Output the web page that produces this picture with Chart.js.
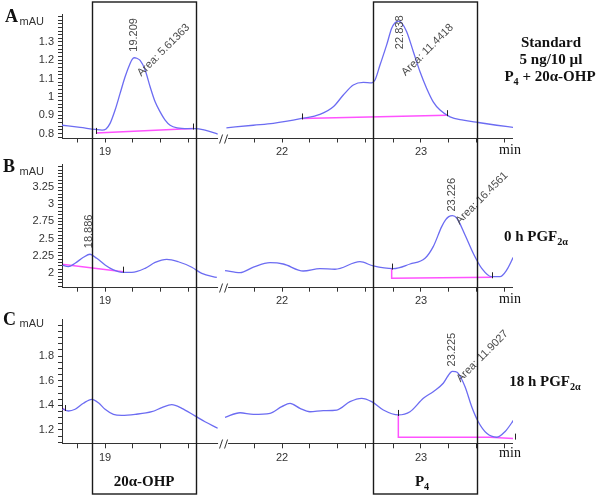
<!DOCTYPE html>
<html>
<head>
<meta charset="utf-8">
<script src="https://cdn.jsdelivr.net/npm/chart.js@4/dist/chart.umd.min.js"></script>
<style>
  html, body { margin: 0; padding: 0; background: #fff; }
  #wrap { position: relative; width: 600px; height: 496px; overflow: hidden; }
  #wrap canvas { position: absolute; left: 0; }
  #overlay { top: 0; pointer-events: none; }
</style>
</head>
<body>
<div id="wrap">
  <canvas id="chartA" width="600" height="160" style="top:0px"></canvas>
  <canvas id="chartB" width="600" height="160" style="top:150px"></canvas>
  <canvas id="chartC" width="600" height="170" style="top:305px"></canvas>
  <canvas id="overlay" width="600" height="496"></canvas>
</div>
<script>
// retention time (min) and signal (mAU)
const timesA = [18.69, 18.82, 18.93, 18.978, 19.007, 19.036, 19.072, 19.108, 19.144, 19.18, 19.195, 19.209, 19.228, 19.252, 19.288, 19.324, 19.36, 19.396, 19.432, 19.468, 19.518, 19.597, 19.647, 19.719, 19.81,
  20.7,
  21.6, 21.794, 21.937, 22.142, 22.273, 22.369, 22.441, 22.513, 22.585, 22.645, 22.669, 22.705, 22.753, 22.789, 22.812, 22.838, 22.862, 22.897, 22.945, 22.993, 23.041, 23.088, 23.137, 23.209, 23.304, 23.412, 23.545, 23.664];
const valuesA = [0.845, 0.833, 0.822, 0.818, 0.825, 0.855, 0.928, 1.019, 1.11, 1.183, 1.205, 1.214, 1.211, 1.199, 1.147, 1.055, 0.973, 0.918, 0.873, 0.845, 0.831, 0.827, 0.827, 0.818, 0.797,
  null,
  0.831, 0.845, 0.855, 0.882, 0.904, 0.946, 1.01, 1.065, 1.079, 1.077, 1.092, 1.174, 1.284, 1.375, 1.404, 1.414, 1.403, 1.356, 1.247, 1.137, 1.046, 0.973, 0.928, 0.891, 0.873, 0.86, 0.845, 0.833];

const timesB = [18.688, 18.736, 18.784, 18.844, 18.892, 18.94, 19.0, 19.06, 19.12, 19.192, 19.288, 19.36, 19.444, 19.527, 19.624, 19.696, 19.804,
  20.7,
  21.59, 21.698, 21.794, 21.914, 22.009, 22.153, 22.273, 22.381, 22.561, 22.657, 22.801, 22.921, 23.029, 23.088, 23.149, 23.178, 23.2, 23.226, 23.257, 23.317, 23.376, 23.437, 23.509, 23.568, 23.617, 23.664];
const valuesB = [2.113, 2.088, 2.138, 2.225, 2.27, 2.21, 2.113, 2.04, 2.005, 2.005, 2.064, 2.15, 2.195, 2.16, 2.08, 1.99, 1.93,
  null,
  2.03, 2.0, 2.08, 2.146, 2.127, 2.025, 2.059, 2.05, 2.161, 2.098, 2.059, 2.127, 2.211, 2.381, 2.674, 2.775, 2.82, 2.835, 2.8, 2.552, 2.284, 2.064, 1.941, 1.941, 2.04, 2.225];

const timesC = [18.688, 18.736, 18.784, 18.844, 18.904, 18.952, 19.0, 19.06, 19.12, 19.216, 19.336, 19.408, 19.48, 19.552, 19.647, 19.719, 19.81,
  20.7,
  21.59, 21.698, 21.794, 21.914, 21.998, 22.058, 22.129, 22.201, 22.297, 22.394, 22.489, 22.573, 22.645, 22.729, 22.837, 22.921, 23.017, 23.088, 23.16, 23.195, 23.225, 23.248, 23.268, 23.317, 23.365, 23.412, 23.473, 23.545, 23.604, 23.676];
const valuesC = [1.376, 1.354, 1.368, 1.417, 1.449, 1.421, 1.368, 1.327, 1.319, 1.327, 1.348, 1.381, 1.405, 1.376, 1.314, 1.267, 1.214,
  null,
  1.303, 1.34, 1.327, 1.335, 1.389, 1.416, 1.376, 1.348, 1.357, 1.362, 1.43, 1.457, 1.43, 1.362, 1.322, 1.348, 1.457, 1.511, 1.579, 1.64, 1.675, 1.673, 1.66, 1.551, 1.389, 1.267, 1.173, 1.141, 1.186, 1.295];

// integration baselines (magenta)
const baseTimesA = [18.935, 19.633, 20.7, 22.142, 23.185];
const baseValuesA = [0.803, 0.827, null, 0.882, 0.9];
const baseTimesB = [18.688, 19.13, 20.7, 22.789, 22.789, 23.509];
const baseValuesB = [2.123, 2.015, null, 2.06, 1.918, 1.933];
const baseTimesC = [18.688, 18.712, 20.7, 22.837, 22.837, 23.496, 23.676];
const baseValuesC = [1.378, 1.362, null, 1.322, 1.141, 1.141, 1.13];

const peakTimesA = [19.209, 22.838];
const peakAreasA = ['5.61363', '11.4418'];
const peakTimesB = [18.886, 23.226];
const peakAreasB = [null, '16.4561'];
const peakTimesC = [23.225];
const peakAreasC = ['11.9027'];

const xTickTimes = [18.8, 19, 19.2, 19.4, 19.6, 21.8, 22, 22.2, 22.4, 22.6, 22.8, 23, 23.2, 23.4, 23.6];
const xTickLabels = [19, 22, 23];
const yLabelsA = [0.8, 0.9, 1, 1.1, 1.2, 1.3];
const yLabelsB = [2, 2.25, 2.5, 2.75, 3, 3.25];
const yLabelsC = [1.2, 1.4, 1.6, 1.8];

const windows = [[18.906, 19.655], [22.655, 23.403]];

// broken time axis: everything after the cut is slid left
const cutAt = 20.7;
const timeShift = 1.727;
const toAxis = (t) => t > cutAt ? t - timeShift : t;

const sans = '"Liberation Sans", Arial, sans-serif';
const serif = '"Liberation Serif", "Times New Roman", serif';

const panels = [
  { canvas: 'chartA', padTop: 14, axisH: 22.5, yMin: 0.778, yMax: 1.453, yStep: 0.02, labels: yLabelsA,
    times: timesA, values: valuesA, baseT: baseTimesA, baseV: baseValuesA, peaks: peakTimesA, areas: peakAreasA,
    offs: [{ num: [0, -6], area: [5, 17] }, { num: [1, 28], area: [5, 53] }], minDy: 16.5 },
  { canvas: 'chartB', padTop: 14, axisH: 23.3, yMin: 1.795, yMax: 3.59, yStep: 0.05, labels: yLabelsB,
    times: timesB, values: valuesB, baseT: baseTimesB, baseV: baseValuesB, peaks: peakTimesB, areas: peakAreasB,
    offs: [{ num: [0, -6] }, { num: [0, -4], area: [5, 7] }], minDy: 16 },
  { canvas: 'chartC', padTop: 14.3, axisH: 31.7, yMin: 1.092, yMax: 2.098, yStep: 0.05, labels: yLabelsC,
    times: timesC, values: valuesC, baseT: baseTimesC, baseV: baseValuesC, peaks: peakTimesC, areas: peakAreasC,
    offs: [{ num: [0, -5], area: [6, 9] }], minDy: 13.5 }
];

function peakValue(p, t) {
  let best = -Infinity;
  p.times.forEach((tt, i) => {
    if (p.values[i] !== null && Math.abs(tt - t) < 0.05 && p.values[i] > best) best = p.values[i];
  });
  return best;
}

function makePlugin(p) {
  return {
    id: 'chrom',
    afterDraw(chart) {
      const ctx = chart.ctx;
      const sx = chart.scales.x, sy = chart.scales.y;
      const area = chart.chartArea;
      const y0 = Math.round(area.bottom) + 0.5;
      const b1 = sx.getPixelForValue(19.813), b2 = sx.getPixelForValue(toAxis(21.612));
      ctx.save();
      ctx.strokeStyle = '#333';
      ctx.lineWidth = 1;
      ctx.beginPath();
      ctx.moveTo(area.left, y0); ctx.lineTo(b1, y0);
      ctx.moveTo(b2, y0); ctx.lineTo(area.right, y0);
      ctx.moveTo(b1 + 1.5, y0 + 5); ctx.lineTo(b1 + 4.5, y0 - 4);
      ctx.moveTo(b1 + 6.5, y0 + 5); ctx.lineTo(b1 + 9.5, y0 - 4);
      ctx.stroke();

      // small marks at the ends of each baseline
      ctx.strokeStyle = '#222';
      ctx.beginPath();
      let run = [];
      const flush = () => {
        if (run.length) {
          [run[0], run[run.length - 1]].forEach(([t, v]) => {
            const x = Math.round(sx.getPixelForValue(toAxis(t))) + 0.5, y = sy.getPixelForValue(v);
            ctx.moveTo(x, y - 5); ctx.lineTo(x, y + 1);
          });
        }
        run = [];
      };
      p.baseT.forEach((t, i) => { if (p.baseV[i] === null) flush(); else run.push([t, p.baseV[i]]); });
      flush();
      ctx.stroke();

      ctx.fillStyle = '#111';
      ctx.font = '14px ' + serif;
      ctx.textAlign = 'center';
      ctx.textBaseline = 'alphabetic';
      ctx.fillText('min', 510, area.bottom + p.minDy);

      ctx.fillStyle = '#4a4a4a';
      ctx.font = '11px ' + sans;
      ctx.textAlign = 'left';
      ctx.textBaseline = 'middle';
      p.peaks.forEach((t, i) => {
        const x = sx.getPixelForValue(toAxis(t)), y = sy.getPixelForValue(peakValue(p, t));
        const o = p.offs[i];
        ctx.save();
        ctx.translate(x + o.num[0], y + o.num[1]);
        ctx.rotate(-Math.PI / 2);
        ctx.fillText(t.toFixed(3), 0, 0);
        ctx.restore();
        if (p.areas[i]) {
          ctx.save();
          ctx.translate(x + o.area[0], y + o.area[1]);
          ctx.rotate(-Math.PI / 4);
          ctx.fillText('Area: ' + p.areas[i], 0, 0);
          ctx.restore();
        }
      });
      ctx.restore();
    }
  };
}

function makeChart(p) {
  const pts = (ts, vs) => ts.map((t, i) => ({ x: toAxis(t), y: vs[i] }));
  const yTicks = [];
  for (let v = Math.ceil(p.yMin / p.yStep) * p.yStep; v <= p.yMax + 1e-9; v += p.yStep) yTicks.push({ value: +v.toFixed(4) });
  return new Chart(document.getElementById(p.canvas), {
    type: 'line',
    data: {
      datasets: [
        { data: pts(p.times, p.values), borderColor: '#6c6cf2', borderWidth: 1.3, pointRadius: 0,
          cubicInterpolationMode: 'monotone', spanGaps: false },
        { data: pts(p.baseT, p.baseV), borderColor: '#ff52ff', borderWidth: 1.5, pointRadius: 0,
          tension: 0, spanGaps: false }
      ]
    },
    options: {
      responsive: false,
      animation: false,
      events: [],
      layout: { padding: { left: 0, right: 87, top: p.padTop, bottom: 0 } },
      plugins: { legend: { display: false }, tooltip: { enabled: false } },
      scales: {
        x: {
          type: 'linear',
          min: toAxis(18.69),
          max: toAxis(23.662),
          afterBuildTicks: (s) => { s.ticks = xTickTimes.map((t) => ({ value: toAxis(t) })); },
          afterFit: (s) => { s.height = p.axisH; },
          grid: { drawOnChartArea: false, tickLength: 5, tickColor: '#333' },
          border: { display: false },
          ticks: {
            autoSkip: false, maxRotation: 0, padding: 3, color: '#333',
            font: { family: sans, size: 11 },
            callback: (v, i) => xTickLabels.includes(xTickTimes[i]) ? String(xTickTimes[i]) : ''
          }
        },
        y: {
          min: p.yMin,
          max: p.yMax,
          afterBuildTicks: (s) => { s.ticks = yTicks.map((t) => ({ value: t.value })); },
          afterFit: (s) => { s.width = 62; },
          grid: { drawOnChartArea: false, tickLength: 4, tickColor: '#333' },
          border: { color: '#333', width: 1 },
          ticks: {
            autoSkip: false, padding: 4, color: '#333',
            font: { family: sans, size: 11 },
            callback: (v) => {
              const m = p.labels.find((l) => Math.abs(l - v) < 1e-6);
              return m === undefined ? '' : String(m);
            }
          }
        }
      }
    },
    plugins: [makePlugin(p)]
  });
}

const charts = panels.map(makeChart);

// overlay: retention windows, panel letters and side captions
const ov = document.getElementById('overlay').getContext('2d');
const scaleX = charts[0].scales.x;

function rich(parts, cx, y, size) {
  let w = 0;
  parts.forEach(([s, sub]) => {
    ov.font = 'bold ' + (sub ? size * 0.68 : size) + 'px ' + serif;
    w += ov.measureText(s).width;
  });
  let x = cx - w / 2;
  parts.forEach(([s, sub]) => {
    ov.font = 'bold ' + (sub ? size * 0.68 : size) + 'px ' + serif;
    ov.fillText(s, x, sub ? y + size * 0.28 : y);
    x += ov.measureText(s).width;
  });
}

ov.strokeStyle = '#1a1a1a';
ov.lineWidth = 1.4;
windows.forEach(([t0, t1]) => {
  const x0 = scaleX.getPixelForValue(toAxis(t0)), x1 = scaleX.getPixelForValue(toAxis(t1));
  ov.strokeRect(Math.round(x0) + 0.5, 2, Math.round(x1 - x0), 492);
});

ov.fillStyle = '#111';
ov.textAlign = 'left';
ov.textBaseline = 'alphabetic';
rich([['20α-OHP', false]], (scaleX.getPixelForValue(toAxis(windows[0][0])) + scaleX.getPixelForValue(toAxis(windows[0][1]))) / 2, 486, 15);
rich([['P', false], ['4', true]], (scaleX.getPixelForValue(toAxis(windows[1][0])) + scaleX.getPixelForValue(toAxis(windows[1][1]))) / 2 - 3, 486, 15);

rich([['Standard', false]], 551, 47, 15);
rich([['5 ng/10 µl', false]], 551, 64, 15);
rich([['P', false], ['4', true], [' + 20α-OHP', false]], 550, 81, 15);
rich([['0 h PGF', false], ['2α', true]], 536, 241, 15);
rich([['18 h PGF', false], ['2α', true]], 545, 386, 15);

[['A', 5, 21.7, 25], ['B', 3, 171.7, 175], ['C', 3, 325, 327]].forEach(([l, x, yl, ym]) => {
  ov.font = 'bold 18px ' + serif;
  ov.fillText(l, x, yl);
  ov.font = '11px ' + sans;
  ov.fillStyle = '#333';
  ov.fillText('mAU', 19.5, ym);
  ov.fillStyle = '#111';
});
</script>
</body>
</html>
